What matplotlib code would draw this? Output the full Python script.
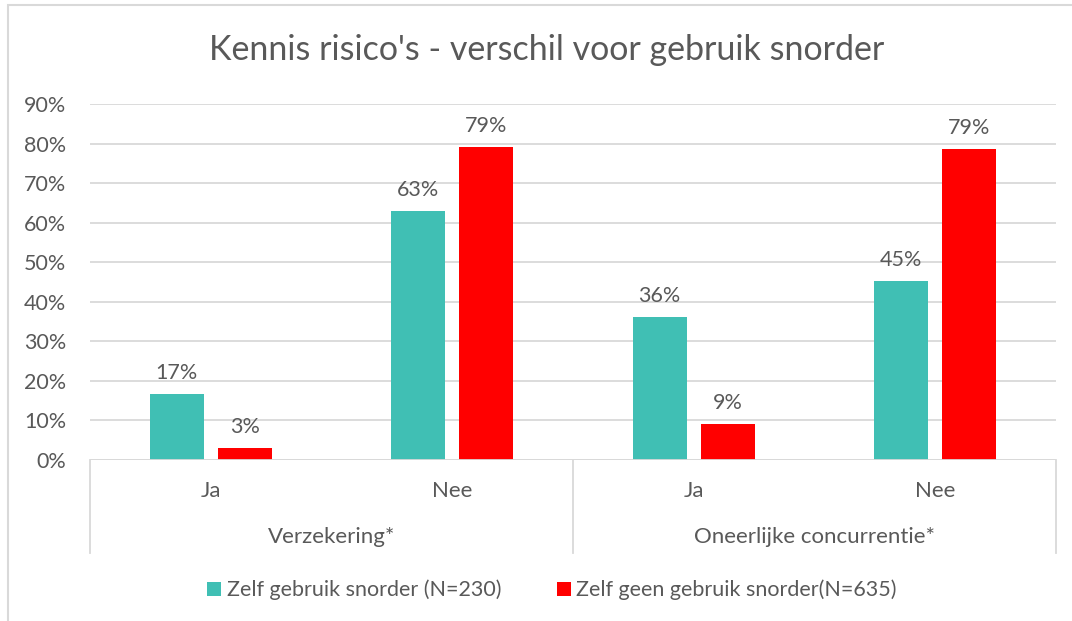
import matplotlib.pyplot as plt
import numpy as np
from matplotlib.patches import Rectangle

# data
groups = ["Verzekering*", "Oneerlijke concurrentie*"]
answers = ["Ja", "Nee", "Ja", "Nee"]
series_names = ["Zelf gebruik snorder (N=230)", "Zelf geen gebruik snorder(N=635)"]
users = [16.6, 62.9, 36.1, 45.2]
non_users = [3.1, 79.2, 9.1, 78.6]
colors = ["#40BFB4", "#FF0000"]

text_col = "#595959"
grid_col = "#D9D9D9"
plt.rcParams['font.family'] = ['Lato', 'DejaVu Sans']

fig = plt.figure(figsize=(10.72, 6.21), dpi=100)
ax = fig.add_axes([90 / 1072, 1 - 460 / 621, 966 / 1072, 356 / 621])

# chart border (cropped Excel frame)
fig.patches.append(Rectangle((8 / 1072, -0.1), 1.2, 1 - 5 / 621 + 0.1, transform=fig.transFigure,
                             fill=False, edgecolor=grid_col, linewidth=1.5))

x = np.arange(len(answers))
w = 0.224
gap = 0.058
off = (w + gap) / 2
b1 = ax.bar(x - off, users, w, color=colors[0], label=series_names[0], zorder=3)
b2 = ax.bar(x + off, non_users, w, color=colors[1], label=series_names[1], zorder=3)

for bars, vals in ((b1, users), (b2, non_users)):
    for rect, v in zip(bars, vals):
        ax.annotate(f"{v:.0f}%", (rect.get_x() + rect.get_width() / 2, v), xytext=(0, 8),
                    textcoords="offset points", ha="center", va="bottom",
                    fontsize=15.5, color=text_col)

ax.set_xlim(-0.5, len(answers) - 0.5)
ax.set_ylim(0, 90)
ax.set_yticks(range(0, 91, 10))
ax.set_yticklabels([f"{t}%" for t in range(0, 91, 10)], fontsize=15.5, color=text_col)
ax.yaxis.grid(True, color=grid_col, linewidth=1.3, zorder=0)
ax.tick_params(axis="y", length=0, pad=17)
ax.set_xticks([])
for s in ax.spines.values():
    s.set_visible(False)
ax.axhline(0, color=grid_col, linewidth=1.3, zorder=4)

# two-level category axis
trans = ax.get_xaxis_transform()
for xb in (-0.5, 1.5, 3.5):
    ax.plot([xb, xb], [0, -93 / 356], transform=trans, color=grid_col, linewidth=1.3, clip_on=False)
for xi, a in zip(x, answers):
    ax.text(xi, -31 / 356, a, transform=trans, ha="center", va="center", fontsize=16, color=text_col)
for gi, g in enumerate(groups):
    ax.text(gi * 2 + 0.5, -77 / 356, g, transform=trans, ha="center", va="center",
            fontsize=16, color=text_col)

fig.text(547 / 1072, 1 - 50 / 621, "Kennis risico's - verschil voor gebruik snorder",
         ha="center", va="center", fontsize=24.5, color=text_col)

leg = fig.legend(loc="center", bbox_to_anchor=(552 / 1072, 1 - 590 / 621), ncol=2, frameon=False,
                 fontsize=15.5, handlelength=0.65, handleheight=0.65, handletextpad=0.25, columnspacing=2.6)
for t in leg.get_texts():
    t.set_color(text_col)

fig.savefig("out.png", dpi=100)
